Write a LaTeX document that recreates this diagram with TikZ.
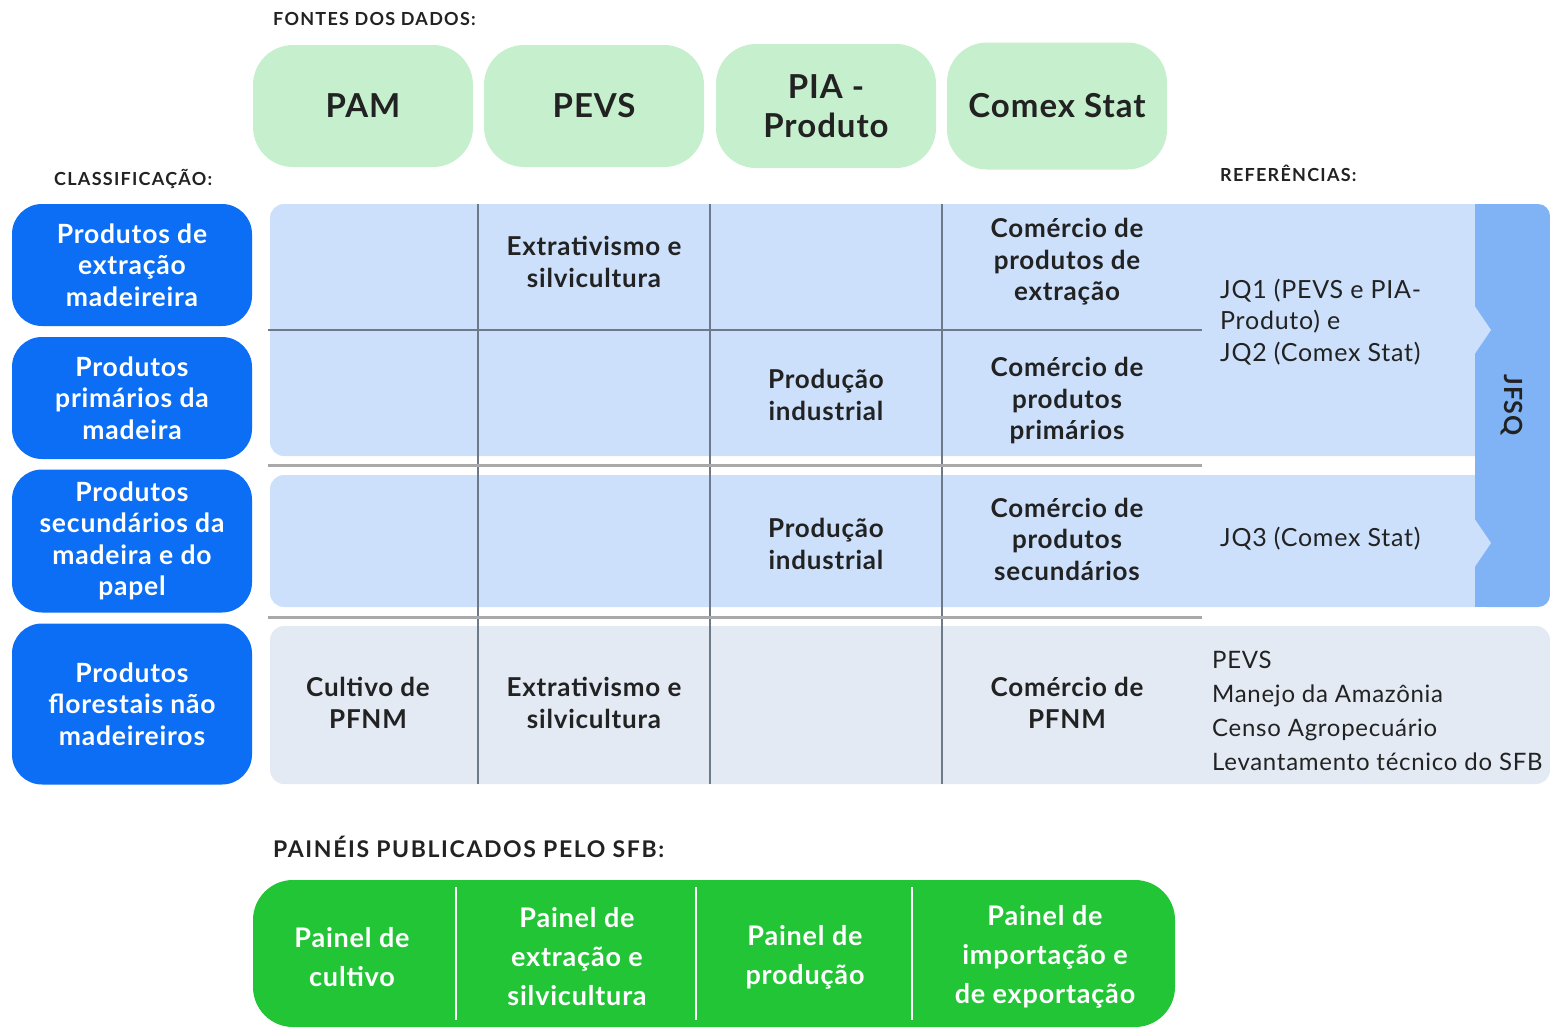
\documentclass[tikz,border=0pt]{standalone}
\usepackage{fontspec}
\setmainfont{Lato}[LetterSpace=3]
\newfontfamily\hdrfont{Lato}[LetterSpace=7]
\definecolor{srcgreen}{HTML}{C6F0CD}
\definecolor{clsblue}{HTML}{0B6EF5}
\definecolor{panelblue}{HTML}{CCE0FB}
\definecolor{panelgrey}{HTML}{E3EAF4}
\definecolor{bandblue}{HTML}{80B3F6}
\definecolor{pubgreen}{HTML}{22C535}
\definecolor{gridgrey}{HTML}{6E7A8A}
\definecolor{sepgrey}{HTML}{A9A9A9}
\definecolor{ink}{HTML}{222222}
\begin{document}
\begin{tikzpicture}[x=1pt,y=-1pt,
  hdr/.style={anchor=west,inner sep=0pt,text=ink,font=\hdrfont\bfseries\fontsize{18}{20}\selectfont},
  srcbox/.style={fill=srcgreen,rounded corners=40pt,minimum width=220pt,minimum height=122pt,inner sep=0pt,align=center,text=ink,font=\bfseries\fontsize{33}{39}\selectfont},
  clsbox/.style={fill=clsblue,rounded corners=30pt,minimum width=240pt,inner sep=0pt,align=center,text=white,font=\bfseries\fontsize{26.5}{31.5}\selectfont},
  cell/.style={inner sep=0pt,align=center,text=ink,font=\bfseries\fontsize{26}{31.5}\selectfont},
  refs/.style={anchor=west,inner sep=0pt,align=left,text=ink,font=\fontsize{25}{31.5}\selectfont},
  pub/.style={inner sep=0pt,align=center,text=white,font=\bfseries\fontsize{27}{39}\selectfont},
  gridline/.style={draw=gridgrey,line width=1.6pt},
  sepline/.style={draw=sepgrey,line width=3pt}]
\useasboundingbox (0,0) rectangle (1550,1028);

% headers
\node[hdr] (hfontes) at (273,19) {FONTES DOS DADOS:};
\node[hdr] (hclass) at (54,179) {CLASSIFICAÇÃO:};
\node[hdr] (hrefs) at (1220,173) {REFERÊNCIAS:};
\node[hdr,font=\hdrfont\bfseries\fontsize{23}{25}\selectfont] (hpub) at (273,847) {PAINÉIS PUBLICADOS PELO SFB:};

% source boxes
\node[srcbox] (pam) at (363,106) {PAM};
\node[srcbox] (pevs) at (594,106) {PEVS};
\node[srcbox,minimum height=124pt] (pia) at (826,106) {PIA -\\Produto};
\node[srcbox,minimum height=127pt] (comex) at (1057,106) {Comex Stat};

% panels
\fill[panelblue,rounded corners=14pt] (270,204) rectangle (1490,456);
\fill[panelblue,rounded corners=14pt] (270,475) rectangle (1490,607);
\fill[panelgrey,rounded corners=14pt] (270,626) rectangle (1550,784);
% JFSQ band
\fill[bandblue,rounded corners=12pt] (1475,204) rectangle (1550,607);
\fill[bandblue] (1475,204) rectangle (1500,607);
\fill[panelblue] (1474,305) -- (1491,330) -- (1474,355) -- cycle;
\fill[panelblue] (1474,518) -- (1491,543) -- (1474,568) -- cycle;
\node[inner sep=0pt,rotate=-90,text=ink,font=\bfseries\fontsize{25}{28}\selectfont] (jfsq) at (1512,405) {JFSQ};

% grid
\coordinate (v1t) at (478,204); \coordinate (v1b) at (478,784);
\coordinate (v2t) at (710,204); \coordinate (v2b) at (710,784);
\coordinate (v3t) at (942,204); \coordinate (v3b) at (942,784);
\draw[gridline] (v1t) -- (v1b);
\draw[gridline] (v2t) -- (v2b);
\draw[gridline] (v3t) -- (v3b);
\coordinate (h1l) at (268,330); \coordinate (h1r) at (1202,330);
\coordinate (h2l) at (268,465); \coordinate (h2r) at (1202,465);
\coordinate (h3l) at (268,617); \coordinate (h3r) at (1202,617);
\draw[gridline] (h1l) -- (h1r);
\draw[sepline] (h2l) -- (h2r);
\draw[sepline] (h3l) -- (h3r);

% classification boxes
\node[clsbox,minimum height=122pt] (k1) at (132,265) {Produtos de\\extração\\madeireira};
\node[clsbox,minimum height=122pt] (k2) at (132,398) {Produtos\\primários da\\madeira};
\node[clsbox,minimum height=143pt] (k3) at (132,541) {Produtos\\secundários da\\madeira e do\\papel};
\node[clsbox,minimum height=161pt] (k4) at (132,704) {Produtos\\florestais não\\madeireiros};

% cells
\node[cell] (c12) at (594,262) {Extrativismo e\\silvicultura};
\node[cell] (c14) at (1067,262) {Comércio de\\produtos de\\extração};
\node[cell] (c23) at (826,395) {Produção\\industrial};
\node[cell] (c24) at (1067,401) {Comércio de\\produtos\\primários};
\node[cell] (c33) at (826,544) {Produção\\industrial};
\node[cell] (c34) at (1067,539) {Comércio de\\produtos\\secundários};
\node[cell] (c41) at (368,703) {Cultivo de\\PFNM};
\node[cell] (c42) at (594,703) {Extrativismo e\\silvicultura};
\node[cell] (c44) at (1067,703) {Comércio de\\PFNM};

% references
\node[refs] (r1) at (1220,322) {JQ1 (PEVS e PIA-\\Produto) e\\JQ2 (Comex Stat)};
\node[refs] (r2) at (1220,539) {JQ3 (Comex Stat)};
\node[refs,font=\fontsize{24}{34}\selectfont] (r3) at (1212,711) {PEVS\\Manejo da Amazônia\\Censo Agropecuário\\Levantamento técnico do SFB};

% published panels
\fill[pubgreen,rounded corners=40pt] (253,880) rectangle (1175,1027);
\coordinate (p1t) at (456,887); \coordinate (p1b) at (456,1020);
\coordinate (p2t) at (696,887); \coordinate (p2b) at (696,1020);
\coordinate (p3t) at (912,887); \coordinate (p3b) at (912,1020);
\draw[white,line width=2.5pt] (p1t) -- (p1b);
\draw[white,line width=2.5pt] (p2t) -- (p2b);
\draw[white,line width=2.5pt] (p3t) -- (p3b);
\node[pub] (q1) at (352,957) {Painel de\\cultivo};
\node[pub] (q2) at (577,957) {Painel de\\extração e\\silvicultura};
\node[pub] (q3) at (805,957) {Painel de\\produção};
\node[pub] (q4) at (1045,957) {Painel de\\importação e\\de exportação};
\end{tikzpicture}
\end{document}
